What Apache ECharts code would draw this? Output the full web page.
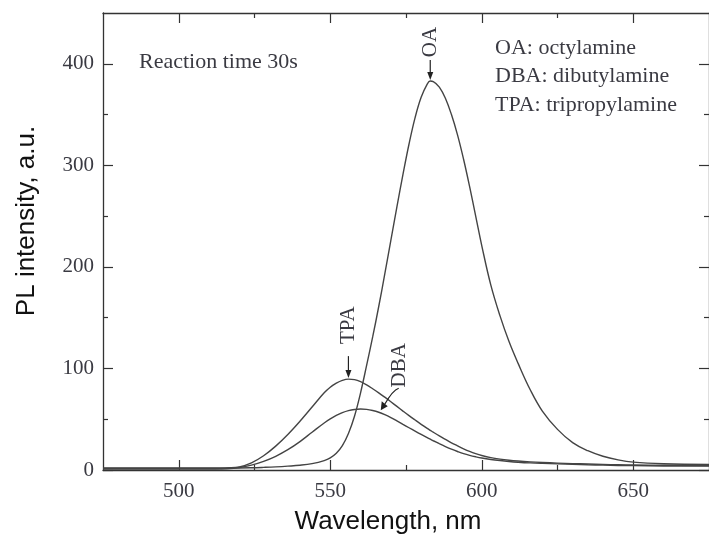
<!DOCTYPE html>
<html>
<head>
<meta charset="utf-8">
<script src="https://cdn.jsdelivr.net/npm/echarts@6/dist/echarts.min.js"></script>
<style>html,body{margin:0;padding:0;background:#fff;}#c{width:709px;height:540px;}</style>
</head>
<body>
<div id="c"></div>
<script>
// ---- data ----
const wavelength = [475, 485, 495, 505, 512, 516, 520, 524, 528, 532, 536, 540, 544, 548, 550, 552, 554, 556, 558, 560, 562, 564, 566, 568, 570, 572, 574, 576, 578, 580, 582, 583, 584, 586, 588, 590, 592, 594, 596, 598, 600, 603, 606, 609, 612, 616, 620, 625, 630, 635, 640, 645, 650, 660, 675];
const oa  = [2, 2, 2, 2, 2, 2, 2, 2.2, 2.6, 3.1, 3.8, 4.7, 6.3, 9.3, 12, 16.5, 24, 36, 53, 76, 103, 131, 161, 193, 226, 259, 291, 321, 347, 367, 380, 383, 382.5, 377, 366, 350, 330, 306, 279, 250, 221, 182, 152, 126.5, 105, 79, 58, 40, 27, 19, 13.5, 10, 7.8, 6.2, 5.5];
const tpa = [1.5, 1.5, 1.5, 1.5, 1.5, 2, 3, 7, 14, 23.5, 35, 48, 62, 76, 81.5, 85.5, 88.3, 89.5, 89, 87, 83.8, 80, 76, 71.7, 67.2, 62.6, 58, 53.5, 49.2, 45, 41, 39.1, 37.2, 33.6, 30.2, 26.8, 23.8, 20.9, 18.3, 16.1, 14.3, 12.2, 10.7, 9.6, 8.8, 8, 7.4, 6.8, 6.3, 5.9, 5.5, 5.2, 5, 4.7, 4.5];
const dba = [1, 1, 1, 1, 1, 1.3, 2.5, 4.8, 8.5, 13.5, 20, 28, 37.2, 46.3, 50.3, 53.7, 56.5, 58.5, 59.6, 60, 59.7, 58.6, 56.9, 54.5, 51.6, 48.3, 44.9, 41.6, 38.3, 35, 31.8, 30.3, 28.8, 25.9, 23.1, 20.5, 18.2, 16.1, 14.4, 13, 11.8, 10.4, 9.3, 8.4, 7.7, 7, 6.5, 6, 5.5, 5.1, 4.8, 4.5, 4.3, 4, 3.8];
const xMajorTicks = [500, 550, 600, 650];
const xMinorTicks = [525, 575, 625];
const yMajorTicks = [0, 100, 200, 300, 400];
const yMinorTicks = [50, 150, 250, 350];
const xName = 'Wavelength, nm';
const yName = 'PL intensity, a.u.';
const noteText = 'Reaction time 30s';
const legendLines = ['OA: octylamine', 'DBA: dibutylamine', 'TPA: tripropylamine'];

const AX = '#333';
const TXT = '#3a3a42';
const SERIF = '"Liberation Serif", "DejaVu Serif", serif';
const SANS = '"Liberation Sans", Arial, sans-serif';
const XMIN = 475, XMAX = 675, YMIN = 0, YMAX = 450;

function xAx(pos, ticks, len, lineShow, labels) {
  return {
    type: 'value', position: pos, min: XMIN, max: XMAX,
    axisLine: { show: lineShow, onZero: false, lineStyle: { color: AX, width: 1.3 } },
    axisTick: { show: true, inside: true, length: len, customValues: ticks, lineStyle: { color: AX, width: 1.2 } },
    axisLabel: labels ? { show: true, customValues: ticks, margin: 11, fontFamily: SERIF, fontSize: 21, color: TXT } : { show: false },
    splitLine: { show: false }
  };
}
function yAx(pos, ticks, len, lineShow, labels) {
  return {
    type: 'value', position: pos, min: YMIN, max: YMAX,
    axisLine: { show: lineShow, onZero: false, lineStyle: { color: AX, width: 1.3 } },
    axisTick: { show: true, inside: true, length: len, customValues: ticks, lineStyle: { color: AX, width: 1.2 } },
    axisLabel: labels ? { show: true, customValues: ticks, margin: 9, fontFamily: SERIF, fontSize: 21, color: TXT } : { show: false },
    splitLine: { show: false }
  };
}

const chart = echarts.init(document.getElementById('c'), null, { renderer: 'canvas' });
function pairs(vals) { return wavelength.map((w, i) => [w, vals[i]]); }
const lineStyle = { color: '#444', width: 1.4 };
function ser(name, vals) {
  return { name: name, type: 'line', data: pairs(vals), smooth: 0.4, showSymbol: false, lineStyle: lineStyle, z: 3 };
}

chart.setOption({
  animation: false,
  backgroundColor: '#fff',
  grid: { left: 103, right: -3, top: 13, bottom: 70, containLabel: false },
  xAxis: [
    xAx('bottom', xMajorTicks, 10, true, true),
    xAx('bottom', xMinorTicks, 5, false, false),
    xAx('top', xMajorTicks, 10, true, false),
    xAx('top', xMinorTicks, 5, false, false)
  ],
  yAxis: [
    yAx('left', yMajorTicks, 10, true, true),
    yAx('left', yMinorTicks, 5, false, false),
    yAx('right', yMajorTicks, 10, true, false),
    yAx('right', yMinorTicks, 5, false, false)
  ],
  series: [ser('OA', oa), ser('DBA', dba), ser('TPA', tpa)]
});

function px(w, v) { return chart.convertToPixel({ gridIndex: 0 }, [w, v]); }
function argmax(a) { let k = 0; a.forEach((v, i) => { if (v > a[k]) k = i; }); return k; }

function arrowDown(x, yTip, len) {
  return [
    { type: 'line', shape: { x1: x, y1: yTip - len, x2: x, y2: yTip - 5 }, style: { stroke: '#222', lineWidth: 1.2 }, z: 10 },
    { type: 'polygon', shape: { points: [[x - 3, yTip - 8], [x + 3, yTip - 8], [x, yTip]] }, style: { fill: '#222' }, z: 10 }
  ];
}
function vtext(txt, x, y) {
  return { type: 'text', x: x, y: y, rotation: Math.PI / 2, z: 10,
    style: { text: txt, font: '21px ' + SERIF, fill: TXT, align: 'center', verticalAlign: 'middle' } };
}

const g = [];
// OA
const iO = argmax(oa); const pO = px(wavelength[iO], oa[iO]);
g.push(...arrowDown(pO[0], pO[1] - 1, 20));
g.push(vtext('OA', pO[0], pO[1] - 39));
// TPA
const iT = argmax(tpa); const pT = px(wavelength[iT], tpa[iT]);
g.push(...arrowDown(pT[0], pT[1] - 1, 22));
g.push(vtext('TPA', pT[0], pT[1] - 54));
// DBA (arrow to the falling side)
const iD = wavelength.indexOf(566); const pD = px(wavelength[iD], dba[iD]);
const tx = pD[0] + 2, ty = pD[1] - 2;
g.push({ type: 'bezierCurve', shape: { x1: tx + 18, y1: ty - 22, cpx1: tx + 12, cpy1: ty - 20, x2: tx + 4, y2: ty - 6 }, style: { stroke: '#222', lineWidth: 1.2, fill: null }, z: 10 });
g.push({ type: 'polygon', shape: { points: [[tx + 1, ty - 9], [tx + 7, ty - 4], [tx, ty]] }, style: { fill: '#222' }, z: 10 });
g.push(vtext('DBA', pD[0] + 21, pD[1] - 47));

// notes
g.push({ type: 'text', x: 139, y: 62, z: 10, style: { text: noteText, font: '22px ' + SERIF, fill: TXT, align: 'left', verticalAlign: 'middle' } });
legendLines.forEach((t, i) => {
  g.push({ type: 'text', x: 495, y: 48 + i * 28.5, z: 10, style: { text: t, font: '22px ' + SERIF, fill: TXT, align: 'left', verticalAlign: 'middle' } });
});
// axis names
g.push({ type: 'text', x: 388, y: 522, z: 10, style: { text: xName, font: '26px ' + SANS, fill: '#111', align: 'center', verticalAlign: 'middle' } });
g.push({ type: 'text', x: 27, y: 221, rotation: Math.PI / 2, z: 10, style: { text: yName, font: '26px ' + SANS, fill: '#111', align: 'center', verticalAlign: 'middle' } });

chart.setOption({ graphic: g });
</script>
</body>
</html>
